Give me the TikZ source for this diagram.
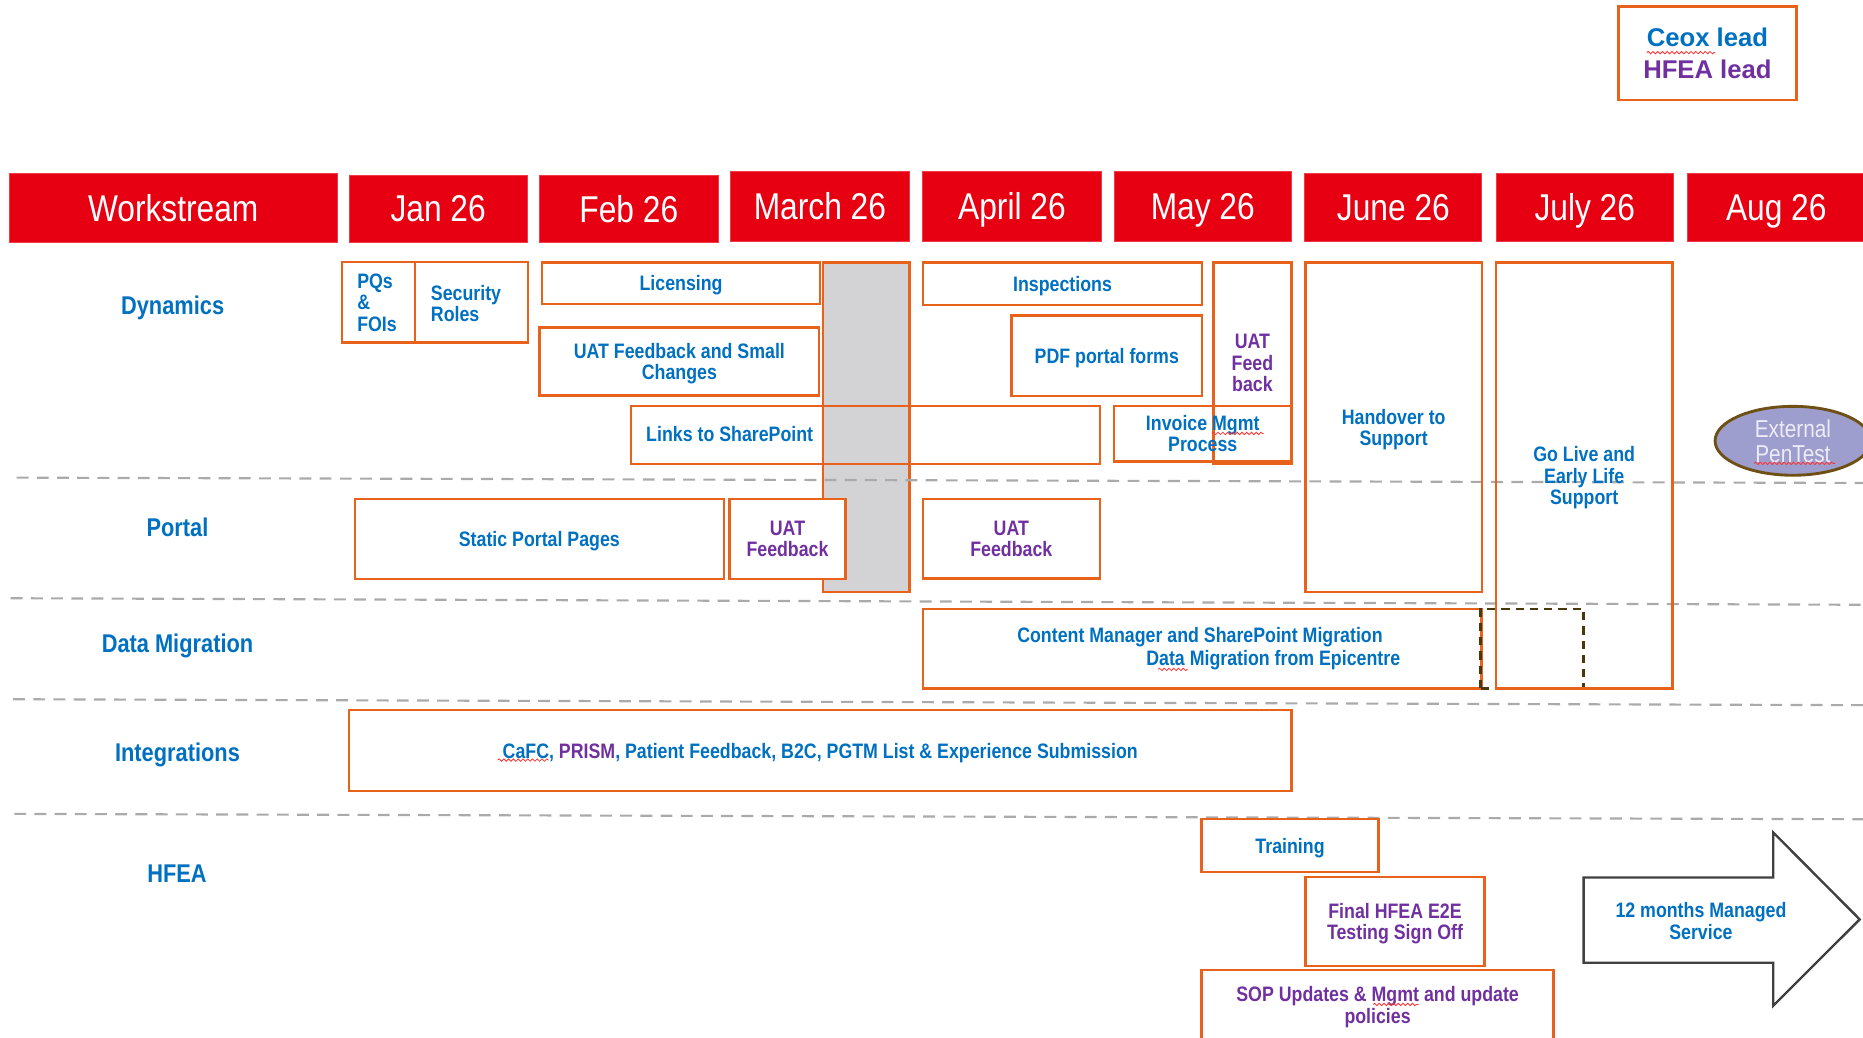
\documentclass[tikz,border=0pt]{standalone}
\usepackage{fontspec}
\setmainfont{Liberation Sans}
\newfontfamily\narrowf[FakeStretch=0.85]{Liberation Sans}
\usetikzlibrary{shapes.geometric,decorations.pathmorphing}
\definecolor{hdrred}{RGB}{230,0,18}
\definecolor{hdrline}{RGB}{240,60,70}
\definecolor{orng}{RGB}{232,98,28}
\definecolor{blu}{RGB}{0,112,192}
\definecolor{purp}{RGB}{112,48,160}
\definecolor{greyfill}{RGB}{211,211,214}
\definecolor{dashgrey}{RGB}{170,170,170}
\definecolor{lav}{RGB}{157,157,206}
\definecolor{lavtext}{RGB}{236,236,246}
\definecolor{brn}{RGB}{110,80,20}
\definecolor{olive}{RGB}{72,56,12}
\definecolor{arrowgrey}{RGB}{64,64,64}
\newcommand\bxfont{\narrowf\bfseries\fontsize{8.8}{9}\selectfont}
% box from corner (x1,y1) to (x2,y2)
\newcommand\bx[7]{\node[#6,minimum width={(#4-#2)*0.5pt},minimum height={(#5-#3)*0.5pt}] (#1) at ({(#2+#4)/2},{(#3+#5)/2}) {#7};}
\begin{document}
\begin{tikzpicture}[x=0.5pt,y=-0.5pt,
 hdr/.style={fill=hdrred,draw=hdrline,line width=0.4pt,text=white,inner sep=0pt,text depth=0pt,font=\narrowf\fontsize{15.7}{18}\selectfont},
 box/.style={draw=orng,line width=1pt,inner sep=0pt,text depth=0pt,align=center,text=blu,font=\bxfont},
 txt/.style={inner sep=0pt,align=left,text=blu,font=\bxfont},
 lab/.style={inner sep=0pt,text depth=0pt,text=blu,font=\narrowf\bfseries\fontsize{10.8}{12}\selectfont},
 sep/.style={draw=dashgrey,line width=0.9pt,dash pattern=on 5pt off 3.5pt},
 squig/.style={draw=red!80!white,line width=0.35pt,decorate,decoration={snake,amplitude=0.5pt,segment length=2pt}},
]
\useasboundingbox (0,0) rectangle (1568,873);
\clip (0,0) rectangle (1568,873);

% legend
\bx{legend}{1362.3}{5.6}{1511.8}{84.2}{draw=orng,line width=1.2pt,inner sep=0pt,align=center,font=\bfseries\fontsize{10.8}{13.5}\selectfont}{\textcolor{blu}{Ceox lead}\\\textcolor{purp}{HFEA lead}}

% headers
\bx{hws}{7.6}{146}{284}{204}{hdr}{Workstream}
\bx{hjan}{294}{147.3}{443.6}{204}{hdr}{Jan 26}
\bx{hfeb}{454}{147.3}{604.5}{204}{hdr}{Feb 26}
\bx{hmar}{614.6}{144.5}{765.5}{203}{hdr}{March 26}
\bx{hapr}{776.7}{144.5}{926.7}{203}{hdr}{April 26}
\bx{hmay}{937.6}{144.5}{1087}{203}{hdr}{May 26}
\bx{hjun}{1098.3}{146}{1247.2}{203}{hdr}{June 26}
\bx{hjul}{1259.1}{146}{1408.5}{203}{hdr}{July 26}
\bx{haug}{1420}{146}{1570}{203}{hdr}{Aug 26}

% row labels
\node[lab] (ldyn) at (145.3,256.5) {Dynamics};
\node[lab] (lpor) at (149.4,443.3) {Portal};
\node[lab] (ldat) at (149.4,541) {Data Migration};
\node[lab] (lint) at (149.4,632.7) {Integrations};
\node[lab] (lhfea) at (149,735) {HFEA};

% grey column
\bx{grey}{692.9}{221}{765.5}{498}{draw=orng,line width=1pt,fill=greyfill,inner sep=0pt}{}

% separators
\draw[sep] (14,402) -- (1568,406.5);
\draw[sep] (9,503.5) -- (1568,509);
\draw[sep] (11,588.5) -- (1568,593.5);
\draw[sep] (12,685) -- (1568,689.5);

% Dynamics
\bx{pqs}{287.6}{220.5}{349.2}{288.4}{box}{}
\node[txt,anchor=west] (pqst) at (300.3,254.6) {PQs\\\&\\FOIs};
\bx{sec}{349.2}{220.5}{444.6}{288.4}{box}{}
\node[txt,anchor=west] (sect) at (362.3,255.2) {Security\\Roles};
\bx{lic}{456.2}{221}{690.3}{256}{box}{Licensing}
\bx{uatsc}{454.2}{275.5}{689.4}{333}{box}{UAT Feedback and Small\\Changes}
\bx{links}{530.9}{341.5}{925.6}{390.3}{box}{}
\node[txt,anchor=west] (linkst) at (543.5,365.5) {Links to SharePoint};
\bx{insp}{776.7}{221}{1011.9}{256.7}{box}{Inspections}
\bx{pdf}{851.2}{265.4}{1011.9}{333.3}{box}{PDF portal forms}
\bx{uatfb}{1021.3}{221}{1087}{390.3}{box,text=purp}{UAT\\Feed\\back}
\bx{inv}{937.6}{341.5}{1087}{388.5}{box}{Invoice Mgmt\\Process}
\bx{hand}{1098.8}{221}{1247.2}{498}{box}{Handover to\\Support}
\node[draw=brn,line width=1.2pt,fill=lav,ellipse,minimum width=65.5pt,minimum height=29pt,inner sep=0pt,align=center,text=lavtext,font=\narrowf\fontsize{10.3}{10.5}\selectfont] (pen) at (1509,371) {External\\PenTest};

% Portal
\bx{static}{298.8}{420}{609.1}{487.4}{box}{Static Portal Pages}
\bx{uatp}{614.1}{420}{711.5}{487.4}{box,fill=white,text=purp}{UAT\\Feedback}
\bx{uata}{776.7}{420}{925.6}{486.8}{box,text=purp}{UAT\\Feedback}

% Data migration
\bx{cont}{776.7}{512.6}{1247}{579.4}{box}{}
\node[txt,anchor=west] (contt1) at (855.8,536.5) {Content Manager and SharePoint Migration};
\node[txt,anchor=west] (contt2) at (964.4,555.2) {Data Migration from Epicentre};
\bx{dbox}{1246.2}{512.6}{1333}{579.4}{draw=olive,line width=1.2pt,dash pattern=on 3.5pt off 2.5pt,inner sep=0pt}{}
\bx{golive}{1259.1}{221}{1407.5}{579.4}{box}{Go Live and\\Early Life\\Support}

% Integrations
\bx{integ}{293.7}{597.6}{1087}{665.8}{box}{CaFC, \textcolor{purp}{PRISM}, Patient Feedback, B2C, PGTM List \& Experience Submission}

% HFEA
\bx{train}{1011.3}{689.4}{1160.2}{733.7}{box}{Training}
\bx{final}{1098.9}{738}{1249.3}{812.9}{box,text=purp}{Final HFEA E2E\\Testing Sign Off}
\bx{sop}{1011.3}{816.5}{1307.6}{875}{box,text=purp}{SOP Updates \& Mgmt and update\\policies}
\draw[draw=arrowgrey,line width=1pt,fill=white] (1332.8,738.5) -- (1492.4,738.5) -- (1492.4,700.6) -- (1565.2,773.8) -- (1492.4,846.5) -- (1492.4,810.3) -- (1332.8,810.3) -- cycle;
\node[txt,align=center] (msvc) at (1431.6,775.1) {12 months Managed\\Service};

% spell-check marks
\draw[squig] (1386,44.3) -- (1443.6,44.3);
\draw[squig] (418.9,639.7) -- (461.8,639.7);
\draw[squig] (1020,364.8) -- (1063.6,364.8);
\draw[squig] (1476.3,390) -- (1544.5,390);
\draw[squig] (974.7,563.4) -- (999.6,563.4);
\draw[squig] (1155.6,845.4) -- (1193.9,845.4);
\end{tikzpicture}
\end{document}
